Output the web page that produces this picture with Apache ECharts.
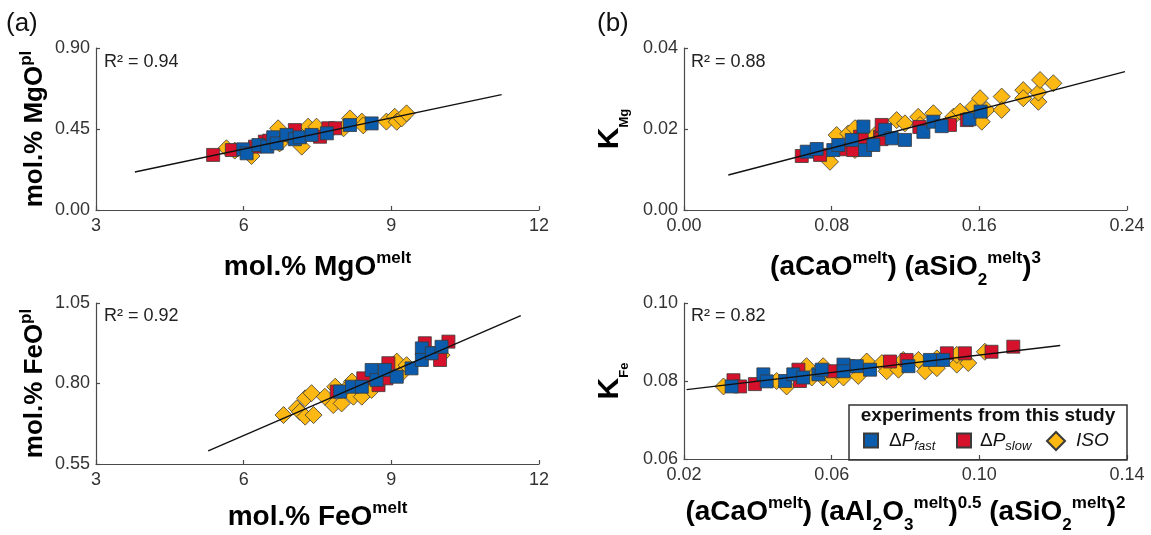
<!DOCTYPE html>
<html><head><meta charset="utf-8">
<script src="https://cdn.jsdelivr.net/npm/echarts@6/dist/echarts.min.js"></script>
<style>html,body{margin:0;padding:0;background:#fff}#c{width:1151px;height:535px}</style>
</head><body><div id="c"></div>
<script>
// ---------- data ----------
// Panel (a) top: mol.% MgO melt vs mol.% MgO pl
const mgFast = [[5.99,0.337],[6.06,0.315],[6.30,0.361],[6.48,0.352],[6.60,0.404],[6.67,0.370],[6.87,0.417],[7.04,0.393],[7.14,0.404],[7.38,0.417],[7.69,0.426],[8.16,0.472],[8.60,0.481]];
const mgSlow = [[5.38,0.306],[5.76,0.333],[6.23,0.352],[6.43,0.380],[6.52,0.385],[7.04,0.444],[7.55,0.407],[7.72,0.454],[7.86,0.454]];
const mgIso  = [[5.65,0.343],[5.82,0.330],[6.13,0.333],[6.16,0.300],[6.70,0.454],[6.73,0.370],[6.94,0.407],[7.18,0.352],[7.31,0.463],[7.48,0.463],[8.03,0.454],[8.16,0.509],[8.40,0.491],[8.43,0.470],[8.90,0.491],[9.07,0.518],[9.11,0.490],[9.21,0.509],[9.31,0.537]];
const mgFit  = [[3.79,0.211],[11.24,0.641]];
// Panel (a) bottom: mol.% FeO melt vs mol.% FeO pl
const feFast = [[7.96,0.775],[8.20,0.790],[8.40,0.790],[8.60,0.842],[8.70,0.811],[8.87,0.842],[9.11,0.821],[9.41,0.847],[9.62,0.909],[9.62,0.873],[9.82,0.894],[10.02,0.914]];
const feSlow = [[7.89,0.775],[8.43,0.816],[8.74,0.795],[8.94,0.863],[8.90,0.816],[9.68,0.925],[9.89,0.894],[9.99,0.873],[10.16,0.930]];
const feIso  = [[6.81,0.702],[7.08,0.723],[7.14,0.712],[7.25,0.754],[7.25,0.697],[7.38,0.770],[7.42,0.702],[7.65,0.759],[7.82,0.733],[7.86,0.790],[7.99,0.738],[8.06,0.780],[8.20,0.806],[8.23,0.759],[8.40,0.759],[8.60,0.780],[9.11,0.868],[9.21,0.832],[9.31,0.857],[10.02,0.888]];
const feFit  = [[5.28,0.591],[11.63,1.011]];
// Panel (b) top: K_Mg
const kmgFast = [[0.0665,0.0144],[0.0719,0.01506],[0.0809,0.0148],[0.0836,0.01605],[0.0909,0.01728],[0.0972,0.0206],[0.0981,0.0148],[0.1026,0.01605],[0.1089,0.0198],[0.1125,0.0177],[0.1197,0.0173],[0.1297,0.0193],[0.1351,0.0218],[0.1396,0.0207],[0.1546,0.0224],[0.1607,0.0243]];
const kmgSlow = [[0.0638,0.01333],[0.0737,0.0136],[0.0872,0.0150],[0.0917,0.0148],[0.0954,0.0181],[0.0963,0.01728],[0.1062,0.0181],[0.1071,0.0210],[0.1070,0.0175],[0.1275,0.0205],[0.1441,0.0210],[0.1532,0.0222]];
const kmgIso  = [[0.0791,0.0119],[0.0827,0.0185],[0.0890,0.0189],[0.0926,0.0202],[0.0926,0.0148],[0.1035,0.0185],[0.1152,0.0222],[0.1197,0.0214],[0.1269,0.0230],[0.1279,0.0210],[0.1351,0.0239],[0.1459,0.0230],[0.1496,0.0243],[0.1568,0.0255],[0.1604,0.0276],[0.1613,0.0218],[0.1640,0.0247],[0.1721,0.0280],[0.1721,0.0247],[0.1838,0.0296],[0.1838,0.0276],[0.1920,0.0267],[0.1920,0.0290],[0.1929,0.0321],[0.2001,0.0313]];
const kmgFit  = [[0.0240,0.00864],[0.2389,0.03415]];
// Panel (b) bottom: K_Fe
const kfeFast = [[0.0329,0.0786],[0.0415,0.0817],[0.0424,0.0799],[0.0474,0.0800],[0.0496,0.0817],[0.0523,0.0809],[0.0564,0.0817],[0.0573,0.0829],[0.0632,0.0842],[0.0632,0.0825],[0.0668,0.0838],[0.0704,0.0829],[0.0808,0.0838],[0.0866,0.0854],[0.0902,0.0854]];
const kfeSlow = [[0.0334,0.0802],[0.0352,0.0786],[0.0392,0.0792],[0.0510,0.0829],[0.0514,0.0800],[0.0604,0.0825],[0.0645,0.0838],[0.0758,0.0850],[0.0803,0.0854],[0.0912,0.0871],[0.0961,0.0871],[0.1033,0.0875],[0.1092,0.0888]];
const kfeIso  = [[0.0307,0.0786],[0.0451,0.0800],[0.0478,0.0786],[0.0532,0.0838],[0.0546,0.0809],[0.0577,0.0838],[0.0577,0.0809],[0.0604,0.0804],[0.0632,0.0809],[0.0672,0.0813],[0.0695,0.0850],[0.0736,0.0846],[0.0749,0.0825],[0.0781,0.0829],[0.0794,0.0854],[0.0835,0.0854],[0.0853,0.0825],[0.0885,0.0858],[0.0885,0.0833],[0.0939,0.0842],[0.0939,0.0867],[0.0970,0.0846],[0.1015,0.0875]];
const kfeFit  = [[0.0207,0.0778],[0.1219,0.0891]];
// tick labels
const ticksMgX = [3,6,9,12];
const ticksMgY = [0,0.45,0.90];
const ticksFeX = [3,6,9,12];
const ticksFeY = [0.55,0.80,1.05];
const ticksKMgX = [0,0.08,0.16,0.24];
const ticksKMgY = [0,0.02,0.04];
const ticksKFeX = [0.02,0.06,0.10,0.14];
const ticksKFeY = [0.06,0.08,0.10];
const r2Labels = ['R\u00b2 = 0.94','R\u00b2 = 0.92','R\u00b2 = 0.88','R\u00b2 = 0.82'];

// ---------- style ----------
const FONT = '"Liberation Sans", Arial, Helvetica, sans-serif';
const COL = {fast:'#0b5cad', slow:'#d6112b', iso:'#fdb813'};
const EDGE = '#3a3a3a';
const AXC = '#4a4a4a';

const richLeft = {
  m:{fontSize:28, fontWeight:'bold', fontFamily:FONT, color:'#000', lineHeight:34},
  sup:{fontSize:17, fontWeight:'bold', fontFamily:FONT, color:'#000', lineHeight:17, verticalAlign:'top'}
};
const richRight = {
  m:{fontSize:28, fontWeight:'bold', fontFamily:FONT, color:'#000', lineHeight:44},
  sup:{fontSize:17, fontWeight:'bold', fontFamily:FONT, color:'#000', lineHeight:17, verticalAlign:'top', padding:[5,0,0,0]},
  sub:{fontSize:17, fontWeight:'bold', fontFamily:FONT, color:'#000', lineHeight:17, verticalAlign:'bottom'}
};
const richYL = {
  m:{fontSize:26, fontWeight:'bold', fontFamily:FONT, color:'#000', lineHeight:34},
  sup:{fontSize:17, fontWeight:'bold', fontFamily:FONT, color:'#000', lineHeight:17, verticalAlign:'top'}
};
const richK = {
  m:{fontSize:30, fontWeight:'bold', fontFamily:FONT, color:'#000', lineHeight:42},
  sub:{fontSize:13, fontWeight:'bold', fontFamily:FONT, color:'#000', lineHeight:13, verticalAlign:'bottom'}
};

function fmt2(v){ return (+v).toFixed(2); }
function fmt0(v){ return String(Math.round(v)); }

function axis(gi, ticks, fmt, name, rich, gap, isY){
  return {
    type:'value', gridIndex:gi, min:ticks[0], max:ticks[ticks.length-1],
    axisLine:{show:true, onZero:false, lineStyle:{color:AXC, width:1.2}},
    axisTick:{show:true, inside:true, length:4, customValues:ticks, lineStyle:{color:AXC, width:1.2}},
    axisLabel:{customValues:ticks, formatter:fmt, fontSize:18, fontFamily:FONT, color:'#333', margin:isY?6:7},
    splitLine:{show:false},
    name:name, nameLocation:'middle', nameGap:gap, nameRotate:isY?90:0,
    nameTextStyle:{rich:rich}
  };
}

const grids = [
  {left:96, top:48, width:443, height:162},
  {left:96, top:303, width:443, height:161},
  {left:684, top:48, width:443, height:162},
  {left:684, top:303, width:443, height:161}
];

const xAxes = [
  axis(0, ticksMgX, fmt0, '{m|mol.% MgO}{sup|melt}', richLeft, 40, false),
  axis(1, ticksFeX, fmt0, '{m|mol.% FeO}{sup|melt}', richLeft, 36, false),
  axis(2, ticksKMgX, fmt2, '{m|(aCaO}{sup|melt}{m|) (aSiO}{sub|2}{sup|melt}{m|)}{sup|3}', richRight, 35, false),
  axis(3, ticksKFeX, fmt2, '{m|(aCaO}{sup|melt}{m|) (aAl}{sub|2}{m|O}{sub|3}{sup|melt}{m|)}{sup|0.5}{m| (aSiO}{sub|2}{sup|melt}{m|)}{sup|2}', richRight, 31, false)
];
const yAxes = [
  axis(0, ticksMgY, fmt2, '{m|mol.% MgO}{sup|pl}', richYL, 44, true),
  axis(1, ticksFeY, fmt2, '{m|mol.% FeO}{sup|pl}', richYL, 44, true),
  axis(2, ticksKMgY, fmt2, '{m|K}{sub|Mg}', richK, 53, true),
  axis(3, ticksKFeY, fmt2, '{m|K}{sub|Fe}', richK, 53, true)
];

function scat(name, data, gi){
  const isIso = name === 'iso';
  return {
    type:'scatter', name:name, xAxisIndex:gi, yAxisIndex:gi, data:data,
    symbol: isIso ? 'diamond' : 'rect', symbolSize: isIso ? 17 : 13,
    itemStyle:{color:COL[name], borderColor:EDGE, borderWidth:0.8, opacity:1},
    z: isIso ? 2 : (name === 'slow' ? 3 : 4), silent:true
  };
}
function fit(data, gi){
  return {type:'line', name:'fit'+gi, xAxisIndex:gi, yAxisIndex:gi, data:data,
    symbol:'none', lineStyle:{color:'#111', width:1.4}, z:6, silent:true};
}

const series = [
  scat('iso', mgIso, 0), scat('slow', mgSlow, 0), scat('fast', mgFast, 0), fit(mgFit, 0),
  scat('iso', feIso, 1), scat('slow', feSlow, 1), scat('fast', feFast, 1), fit(feFit, 1),
  scat('iso', kmgIso, 2), scat('slow', kmgSlow, 2), scat('fast', kmgFast, 2), fit(kmgFit, 2),
  scat('iso', kfeIso, 3), scat('slow', kfeSlow, 3), scat('fast', kfeFast, 3), fit(kfeFit, 3)
];

const legRich = {
  d:{fontSize:19, fontFamily:FONT, color:'#111', lineHeight:24},
  p:{fontSize:19, fontFamily:FONT, fontStyle:'italic', color:'#111', lineHeight:24},
  s:{fontSize:13, fontFamily:FONT, fontStyle:'italic', color:'#111', lineHeight:13, verticalAlign:'bottom'}
};
function leg(name, icon, left, w, pad, label){
  return {
    data:[{name:name, icon:icon}], left:left, top:431, orient:'horizontal', padding:0,
    itemWidth:w, itemHeight:w, selectedMode:false,
    formatter:function(){ return label; },
    textStyle:{rich:Object.assign({}, legRich, {g:{width:pad}})}
  };
}
const legends = [
  leg('fast', 'rect', 863, 14, 6, '{g|}{d|\u0394}{p|P}{s|fast}'),
  leg('slow', 'rect', 956, 14, 4, '{g|}{d|\u0394}{p|P}{s|slow}'),
  leg('iso', 'diamond', 1046, 18, 6, '{g|}{p|ISO}')
];

const r2Pos = [[104,62],[104,316],[691,62],[691,316]];
const graphic = [
  {type:'text', x:6, y:24, style:{text:'(a)', font:'26px ' + FONT, fill:'#111', verticalAlign:'middle'}},
  {type:'text', x:597, y:24, style:{text:'(b)', font:'26px ' + FONT, fill:'#111', verticalAlign:'middle'}},
  {type:'rect', shape:{x:849, y:405, width:278, height:55}, style:{fill:'rgba(0,0,0,0)', stroke:'#333', lineWidth:1.5}, z:3},
  {type:'text', x:988, y:416, style:{text:'experiments from this study', font:'bold 19px ' + FONT, fill:'#111', align:'center', verticalAlign:'middle'}, z:5}
].concat(r2Pos.map(function(p, i){
  return {type:'text', x:p[0], y:p[1], style:{text:r2Labels[i], font:'18px ' + FONT, fill:'#222', verticalAlign:'middle'}};
}));

const chart = echarts.init(document.getElementById('c'), null, {renderer:'canvas'});
chart.setOption({
  animation:false,
  backgroundColor:'#fff',
  grid:grids, xAxis:xAxes, yAxis:yAxes, series:series,
  legend:legends, graphic:graphic
});
</script>
</body></html>
